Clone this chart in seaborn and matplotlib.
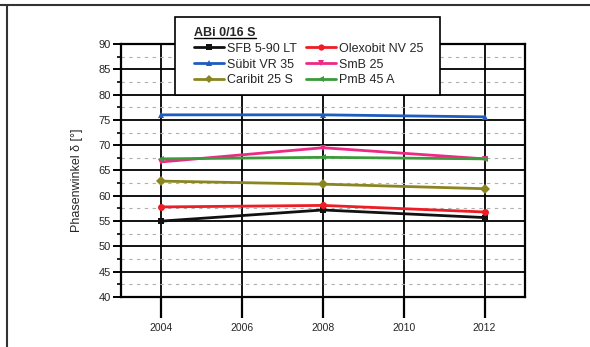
import matplotlib
matplotlib.use("Agg")
import matplotlib.pyplot as plt
from matplotlib.lines import Line2D
from matplotlib.patches import Rectangle
from matplotlib.ticker import MultipleLocator
import numpy as np
import pandas as pd
import seaborn as sns

# Phase angle by year for each binder of the ABi 0/16 S mix
years = [2004, 2008, 2012]
series_names = ["SFB 5-90 LT", "Sübit VR 35", "Caribit 25 S",
                "Olexobit NV 25", "SmB 25", "PmB 45 A"]
sfb = [55.0, 57.2, 55.7]
suebit = [76.0, 76.0, 75.6]
caribit = [62.9, 62.3, 61.4]
olexobit = [57.8, 58.1, 56.8]
smb = [66.7, 69.5, 67.3]
pmb = [67.3, 67.6, 67.3]
legend_title = "ABi 0/16 S"
y_label = "Phasenwinkel δ [°]"

values = [sfb, suebit, caribit, olexobit, smb, pmb]
df = pd.DataFrame({
    "Jahr": np.tile(years, len(series_names)),
    "delta": np.concatenate(values),
    "Bindemittel": np.repeat(series_names, len(years)),
})

colors = {
    "SFB 5-90 LT": "#111111",
    "Sübit VR 35": "#1f5cc0",
    "Caribit 25 S": "#8a8520",
    "Olexobit NV 25": "#ee1c24",
    "SmB 25": "#ec2a86",
    "PmB 45 A": "#3b9a3b",
}
markers = {
    "SFB 5-90 LT": "s",
    "Sübit VR 35": "^",
    "Caribit 25 S": "D",
    "Olexobit NV 25": "o",
    "SmB 25": "v",
    "PmB 45 A": "<",
}

sns.set_theme(style="white")
plt.rcParams["font.family"] = ["Liberation Sans", "DejaVu Sans"]

fig = plt.figure(figsize=(5.90, 3.47), dpi=100)
ax = fig.add_axes([121 / 590, 1 - 297 / 347, 404 / 590, 253 / 347])

sns.lineplot(data=df, x="Jahr", y="delta", hue="Bindemittel", style="Bindemittel",
             palette=colors, markers=markers, dashes=False, markersize=5,
             linewidth=2.0, markeredgewidth=0, ax=ax, legend=False, zorder=5)

ax.set_xlim(2003, 2013)
ax.set_ylim(40, 90)
ax.xaxis.set_major_locator(MultipleLocator(2))
ax.yaxis.set_major_locator(MultipleLocator(5))
ax.yaxis.set_minor_locator(MultipleLocator(2.5))

ax.grid(which="major", color="black", linewidth=1.3, linestyle="-", zorder=1)
ax.grid(which="minor", axis="y", color="#b0b0b0", linewidth=0.8,
        linestyle=(0, (3, 4)), zorder=1)
ax.set_axisbelow(True)

for sp in ax.spines.values():
    sp.set_color("black")
    sp.set_linewidth(1.6)

ax.tick_params(axis="x", which="major", direction="out", length=15, width=1.6,
               color="black", labelsize=7.5, pad=4, bottom=True)
ax.tick_params(axis="y", which="major", direction="out", length=6, width=1.4,
               color="black", labelsize=8, pad=1.5, left=True)
ax.tick_params(axis="y", which="minor", direction="out", length=3, width=1.2,
               color="black", left=True)

ax.set_xlabel("")
ax.set_ylabel(y_label, fontsize=9)
ax.yaxis.set_label_coords(-0.095, 0.46)

# Legend box with a white background over the upper plot area
fig.add_artist(Rectangle((175 / 590, 1 - 95 / 347), 265 / 590, 78 / 347,
                         transform=fig.transFigure, facecolor="white",
                         edgecolor="black", linewidth=1.2, zorder=4))

# Two-column legend with a bold, underlined title
handles = [Line2D([], [], color=colors[n], marker=markers[n], markersize=4.5,
                  markeredgewidth=0, linewidth=2.0) for n in series_names]
leg = fig.legend(handles, series_names, ncol=2, loc="upper left",
                 bbox_to_anchor=(194 / 590, 1 - 27 / 347),
                 title=legend_title,
                 fontsize=9, title_fontsize=9, frameon=False,
                 handlelength=2.4, handletextpad=0.25, columnspacing=0.7,
                 labelspacing=0.3, borderpad=0, borderaxespad=0)
leg.set_zorder(5)
leg.get_title().set_fontweight("bold")
leg._legend_box.align = "left"

# Underline under the legend title
fig.canvas.draw()
bb = leg.get_title().get_window_extent().transformed(fig.transFigure.inverted())
uy = bb.y0 + 0.12 * (bb.y1 - bb.y0)
fig.add_artist(Line2D([bb.x0, bb.x1], [uy, uy], color="black", linewidth=1.0,
                      transform=fig.transFigure, zorder=6))

# Page frame lines
fig.add_artist(Line2D([0, 1], [1 - 5 / 347, 1 - 5 / 347], color="#333333",
                      linewidth=1.5, transform=fig.transFigure))
fig.add_artist(Line2D([7 / 590, 7 / 590], [0, 1 - 5 / 347], color="#333333",
                      linewidth=1.5, transform=fig.transFigure))

fig.savefig("out.png", dpi=100)
